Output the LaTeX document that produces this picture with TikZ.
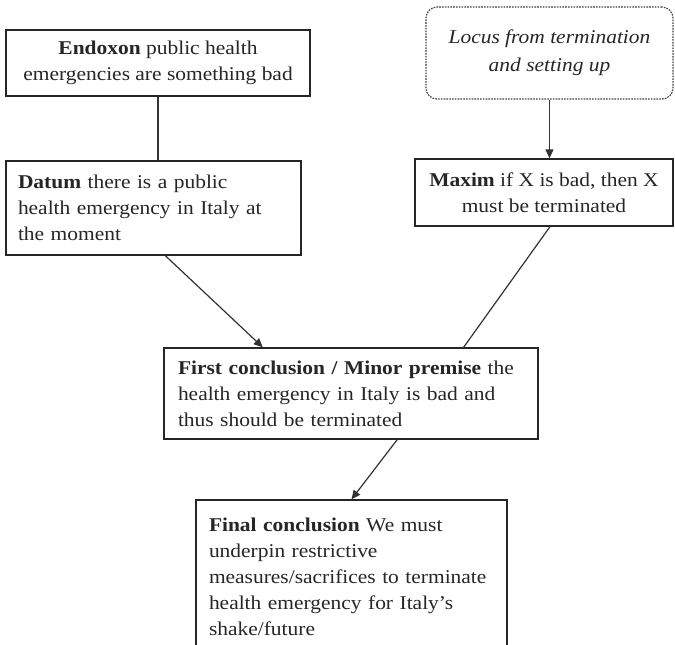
\documentclass[tikz,border=0pt]{standalone}
\usepackage{fontspec}
\setmainfont{Liberation Serif}[FakeStretch=1.1]
\usetikzlibrary{arrows.meta,calc}
\tikzset{
  box/.style={draw=black!85, line width=1.4pt, rectangle, inner ysep=0pt,
    font=\fontsize{19.5}{26}\selectfont, text=black!85},
  locusbox/.style={draw=black!75, line width=1.2pt, rectangle, rounded corners=11pt,
    dash pattern=on 1.6pt off 1.2pt, inner ysep=0pt, align=center,
    font=\fontsize{19.5}{28}\selectfont\itshape, text=black!85},
  conn/.style={draw=black!80, line width=1.2pt},
  arr/.style={conn, -{Triangle[length=9pt,width=8pt]}}
}
\begin{document}
\begin{tikzpicture}[x=1pt,y=-1pt]
\useasboundingbox (0,0) rectangle (675,645);
\clip (0,0) rectangle (675,645);
\fill[white] (0,0) rectangle (675,645);

\node[box, align=center, minimum width=304pt, minimum height=66pt, inner xsep=4pt] (endoxon) at (158,63)
  {\textbf{Endoxon} public health\\emergencies are something bad};

\node[box, align=left, text width=271pt, inner xsep=12pt, minimum height=94pt] (datum) at (153.5,208)
  {\textbf{Datum} there is a public\\health emergency in Italy at\\the moment};

\node[locusbox, minimum width=247pt, minimum height=92pt] (locus) at (549.5,53)
  {Locus from termination\\and setting up};

\node[box, align=left, text width=346pt, inner xsep=14pt, minimum height=91pt] (first) at (351,393.5)
  {\textbf{First conclusion / Minor premise} the\\health emergency in Italy is bad and\\thus should be terminated};

\node[box, align=center, minimum width=258pt, minimum height=67pt, inner xsep=4pt] (maxim) at (544,192.5)
  {\textbf{Maxim} if X is bad, then X\\must be terminated};

\node[box, align=left, text width=285pt, inner xsep=13pt, minimum height=153pt] (final) at (351.5,576.5)
  {\textbf{Final conclusion} We must\\underpin restrictive\\measures/sacrifices to terminate\\health emergency for Italy's\\shake/future};

\draw[conn] (endoxon.south) -- (endoxon.south |- datum.north);
\draw[arr] (locus.south) -- (locus.south |- maxim.north);
\draw[arr] ($(datum.south west)!0.54!(datum.south east)$) -- ($(first.north west)!0.265!(first.north east)$);
\draw[conn] ($(maxim.south west)!0.523!(maxim.south east)$) -- ($(first.north west)!0.8!(first.north east)$);
\draw[arr] ($(first.south west)!0.623!(first.south east)$) -- (final.north);
\end{tikzpicture}
\end{document}
